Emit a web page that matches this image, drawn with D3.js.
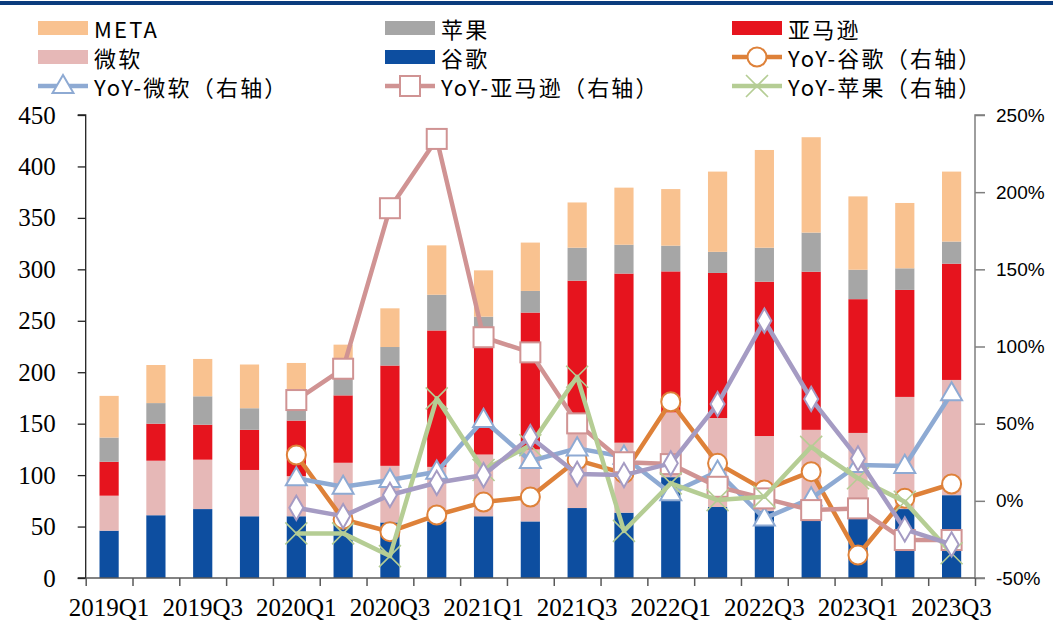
<!DOCTYPE html>
<html>
<head>
<meta charset="utf-8">
<script src="https://cdn.jsdelivr.net/npm/d3@7"></script>
<style>
  body { margin: 0; background: #fff; }
  svg { display: block; }
  .lab { font-family: "Noto Sans CJK SC", "Noto Sans", sans-serif; font-size: 22px; letter-spacing: 2.2px; fill: #000; }
</style>
</head>
<body>
<div id="chart"></div>
<script>
// quarters on the x axis
var quarters = ['2019Q1','2019Q2','2019Q3','2019Q4','2020Q1','2020Q2','2020Q3','2020Q4',
  '2021Q1','2021Q2','2021Q3','2021Q4','2022Q1','2022Q2','2022Q3','2022Q4',
  '2023Q1','2023Q2','2023Q3'];
var xLabels = ['2019Q1','2019Q3','2020Q1','2020Q3','2021Q1','2021Q3','2022Q1','2022Q3','2023Q1','2023Q3'];

// stacked bars (left axis), bottom to top
var google = [46, 61, 67, 60, 60, 53, 54, 55, 60, 55, 68, 63.5, 98, 69, 65, 63, 58, 67, 80.5];
var msft   = [34, 53, 48, 45, 39, 59, 55, 53, 60, 70, 92, 68, 63, 86.5, 73, 81, 83, 109, 112];
var amzn   = [33, 36, 34, 39, 54, 65.5, 97.5, 132.6, 119, 133, 129, 164.4, 137, 141, 150, 153.7, 130, 104, 113];
var apple  = [23.5, 20, 27.6, 21, 12, 17.6, 18, 34.7, 15, 21, 32, 28, 25, 20.5, 33, 38, 28.6, 21, 21.5];
var meta   = [40.5, 37, 36.3, 42.5, 44, 31.7, 37.6, 48, 45, 47, 44, 55.5, 55, 78, 95, 92.7, 71.3, 63.5, 68];

// YoY lines (right axis, %), starting 2020Q1
var yoyGoogle = [29.7, -12, -20, -9.2, -0.8, 2.5, 26.4, 17.8, 64.2, 24.3, 7, 18.9, -35.1, 1.6, 10.9];
var yoyMsft   = [14.6, 9.1, 13.5, 18.9, 52.4, 25.8, 34, 28.6, 4.9, 18.9, -11.4, 1.6, 23.2, 22.6, 69.7];
var yoyAmzn   = [65.3, 85.6, 189.6, 234.5, 106, 96.2, 50.2, 25, 23.8, 9.1, 1.6, -6, -4.9, -25.4, -25.4];
var yoyApple  = [-21.1, -21.1, -35.8, 66.4, 20, 36, 80.4, -19.5, 11.3, 0.5, 2.7, 35, 14.6, -0.6, -34];
var yoyMeta   = [-4.5, -9.9, 3.8, 11.7, 16.7, 41.3, 17.4, 16.7, 24.3, 62.7, 116.7, 66, 27.5, -18.5, -28.2];

var leftTicks = [0, 50, 100, 150, 200, 250, 300, 350, 400, 450];
var rightTicks = [-50, 0, 50, 100, 150, 200, 250];

var width = 1053, height = 624;
var x0 = 85.7, x1 = 975, yTop = 115, yBot = 578;
var serif = '"Liberation Serif", "DejaVu Serif", serif';
var sans = '"Liberation Sans", Arial, sans-serif';

var svg = d3.select('#chart').append('svg')
  .attr('width', width).attr('height', height);

// top rule
svg.append('rect').attr('x', 0).attr('y', 1).attr('width', width).attr('height', 4).attr('fill', '#0b3c7d');

var xBand = d3.scaleBand().domain(quarters).range([x0, x1]).padding(0);
var xEdge = d3.scaleLinear().domain([0, quarters.length]).range([x0, x1]);
var yL = d3.scaleLinear().domain([0, 450]).range([yBot, yTop]);
var yR = d3.scaleLinear().domain([-50, 250]).range([yBot, yTop]);
var barW = xBand.bandwidth() * 0.41;
var cx = function(q) { return xBand(q) + xBand.bandwidth() / 2; };

// stacks
var barSeries = [
  { name: '谷歌', vals: google, color: '#0d4ea0' },
  { name: '微软', vals: msft, color: '#e6b8b7' },
  { name: '亚马逊', vals: amzn, color: '#e6141e' },
  { name: '苹果', vals: apple, color: '#a6a6a6' },
  { name: 'META', vals: meta, color: '#f9c290' }
];
var table = quarters.map(function(q, i) {
  var row = { q: q };
  barSeries.forEach(function(s) { row[s.name] = s.vals[i]; });
  return row;
});
var stacked = d3.stack().keys(barSeries.map(function(s) { return s.name; }))(table);

svg.append('g').selectAll('g')
  .data(stacked)
  .enter().append('g')
  .attr('fill', function(d, i) { return barSeries[i].color; })
  .selectAll('rect')
  .data(function(d) { return d; })
  .enter().append('rect')
  .attr('x', function(d) { return cx(d.data.q) - barW / 2; })
  .attr('width', barW)
  .attr('y', function(d) { return yL(d[1]); })
  .attr('height', function(d) { return yL(d[0]) - yL(d[1]); });

// axes
var leftAxis = d3.axisLeft(yL).tickValues(leftTicks).tickSize(8).tickPadding(22);
var gl = svg.append('g')
  .attr('transform', 'translate(' + x0 + ',0)').call(leftAxis)
  .attr('font-family', serif).attr('font-size', 25);
gl.selectAll('path, line').attr('stroke', '#222').attr('stroke-width', 1.3);
gl.selectAll('text').attr('fill', '#000');
gl.select('.domain').attr('d', 'M-8,' + yTop + 'H0V' + yBot + 'H-8');

var rightAxis = d3.axisRight(yR).tickValues(rightTicks).tickSize(10).tickPadding(11)
  .tickFormat(function(d) { return d + '%'; });
var gr = svg.append('g')
  .attr('transform', 'translate(' + x1 + ',0)').call(rightAxis)
  .attr('font-family', sans).attr('font-size', 19);
gr.selectAll('path, line').attr('stroke', '#7f7f7f').attr('stroke-width', 1.5);
gr.selectAll('text').attr('fill', '#000');
gr.select('.domain').attr('d', 'M10,' + yTop + 'H0V' + yBot + 'H10');

var bottomAxis = d3.axisBottom(xEdge).tickValues(d3.range(0, quarters.length + 1))
  .tickSize(8).tickFormat('');
var gb = svg.append('g').attr('transform', 'translate(0,' + yBot + ')').call(bottomAxis);
gb.selectAll('path, line').attr('stroke', '#595959').attr('stroke-width', 1.5);
gb.select('.domain').attr('d', 'M' + x0 + ',0H' + x1);

svg.append('g').selectAll('text')
  .data(xLabels).enter().append('text')
  .attr('font-family', serif).attr('font-size', 25).attr('fill', '#000')
  .attr('x', function(d) { return cx(d); })
  .attr('y', 616)
  .attr('text-anchor', 'middle')
  .text(function(d) { return d; });

// marker shapes
function drawMarker(g, type, color) {
  if (type === 'circle') {
    g.append('circle').attr('r', 9.5).attr('fill', '#fff').attr('stroke', color).attr('stroke-width', 2);
  } else if (type === 'square') {
    g.append('rect').attr('x', -10).attr('y', -10).attr('width', 20).attr('height', 20)
      .attr('fill', '#fff').attr('stroke', color).attr('stroke-width', 2);
  } else if (type === 'triangle') {
    g.append('path').attr('d', d3.symbol(d3.symbolTriangle, 190)())
      .attr('transform', 'translate(0,1)')
      .attr('fill', '#fff').attr('stroke', color).attr('stroke-width', 2);
  } else if (type === 'diamond') {
    g.append('path').attr('d', d3.symbol(d3.symbolDiamond, 170)())
      .attr('fill', '#fff').attr('stroke', color).attr('stroke-width', 2);
  } else if (type === 'x') {
    g.append('path').attr('d', 'M-11,-11L11,11M-11,11L11,-11')
      .attr('stroke', color).attr('stroke-width', 1.6).attr('fill', 'none');
  }
}

var lineSeries = [
  { name: 'YoY-谷歌（右轴）', vals: yoyGoogle, color: '#de8139', marker: 'circle' },
  { name: 'YoY-微软（右轴）', vals: yoyMsft, color: '#8eaad3', marker: 'triangle' },
  { name: 'YoY-亚马逊（右轴）', vals: yoyAmzn, color: '#d09393', marker: 'square' },
  { name: 'YoY-苹果（右轴）', vals: yoyApple, color: '#b5cd94', marker: 'x' },
  { name: 'YoY-META（右轴）', vals: yoyMeta, color: '#a59bc3', marker: 'diamond' }
];
var lineQuarters = quarters.slice(4);
var line = d3.line()
  .x(function(d) { return cx(d.q); })
  .y(function(d) { return yR(d.v); });

lineSeries.forEach(function(s) {
  var pts = lineQuarters.map(function(q, i) { return { q: q, v: s.vals[i] }; });
  var g = svg.append('g');
  g.append('path').datum(pts).attr('d', line)
    .attr('fill', 'none').attr('stroke', s.color).attr('stroke-width', 4.5)
    .attr('stroke-linejoin', 'round');
  g.selectAll('g').data(pts).enter().append('g')
    .attr('transform', function(d) { return 'translate(' + cx(d.q) + ',' + yR(d.v) + ')'; })
    .each(function() { drawMarker(d3.select(this), s.marker, s.color); });
});

// legend
var legendItems = [
  { label: 'META', type: 'bar', color: '#f9c290' },
  { label: '苹果', type: 'bar', color: '#a6a6a6' },
  { label: '亚马逊', type: 'bar', color: '#e6141e' },
  { label: '微软', type: 'bar', color: '#e6b8b7' },
  { label: '谷歌', type: 'bar', color: '#0d4ea0' },
  { label: lineSeries[0].name, type: 'line', s: lineSeries[0] },
  { label: lineSeries[1].name, type: 'line', s: lineSeries[1] },
  { label: lineSeries[2].name, type: 'line', s: lineSeries[2] },
  { label: lineSeries[3].name, type: 'line', s: lineSeries[3] }
];
var colX = [38, 385, 732];
var rowY = [28, 57, 86];
var lg = svg.append('g').selectAll('g')
  .data(legendItems).enter().append('g')
  .attr('transform', function(d, i) { return 'translate(' + colX[i % 3] + ',' + rowY[Math.floor(i / 3)] + ')'; });
lg.each(function(d) {
  var g = d3.select(this);
  if (d.type === 'bar') {
    g.append('rect').attr('x', 0).attr('y', -7).attr('width', 50).attr('height', 14).attr('fill', d.color);
  } else {
    g.append('line').attr('x1', 0).attr('x2', 50).attr('y1', 0).attr('y2', 0)
      .attr('stroke', d.s.color).attr('stroke-width', 4.5);
    var m = g.append('g').attr('transform', 'translate(25,0)');
    drawMarker(m, d.s.marker, d.s.color);
  }
  g.append('text').attr('class', 'lab').attr('x', 56).attr('y', 0)
    .attr('dominant-baseline', 'central').text(d.label);
});
</script>
</body>
</html>
